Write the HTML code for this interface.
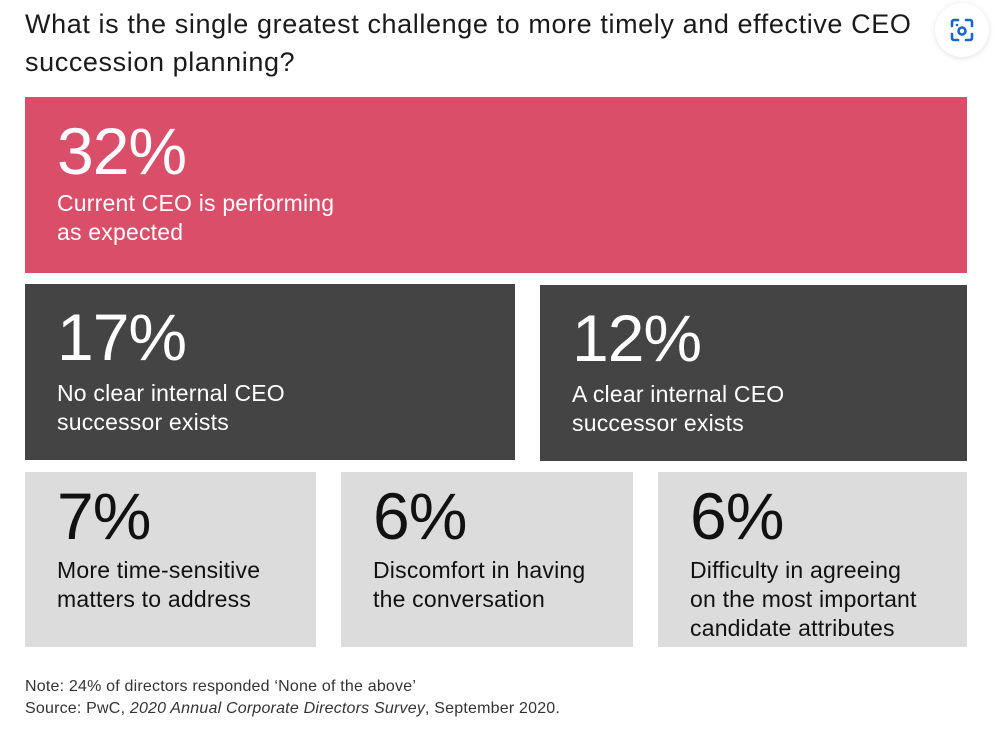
<!DOCTYPE html>
<html><head><meta charset="utf-8"><style>
body{margin:0;width:1000px;height:743px;background:#fff;position:relative;overflow:hidden;font-family:"Liberation Sans",sans-serif;}
.title{position:absolute;left:25px;top:5px;font-size:27px;line-height:38px;letter-spacing:0.6px;color:#1a1a1a;width:915px;}
.box{position:absolute;}
.num{position:absolute;left:32px;font-size:66px;line-height:66px;font-weight:300;letter-spacing:-1px;}
.lbl{position:absolute;left:32px;font-size:23px;line-height:29px;letter-spacing:0.2px;}
.note{position:absolute;left:25px;top:676px;font-size:16px;line-height:22px;letter-spacing:0.2px;color:#333;}
.cam{position:absolute;left:935px;top:3px;width:54px;height:54px;border-radius:50%;background:#fff;box-shadow:0 1px 6px rgba(0,0,0,.12);}
</style></head><body>
<div class="title">What is the single greatest challenge to more timely and effective CEO succession planning?</div>
<div class="cam">
<svg width="54" height="54" viewBox="0 0 54 54"><g fill="none" stroke="#1a66c9" stroke-width="2.6" stroke-linecap="round"><path d="M17 23v-4a2 2 0 0 1 2-2h4M31 17h4a2 2 0 0 1 2 2v4M37 31v4a2 2 0 0 1-2 2h-4M23 37h-4a2 2 0 0 1-2-2v-4"/><circle cx="27" cy="28" r="3.5"/></g><circle cx="22" cy="22" r="1.3" fill="#1a66c9"/></svg>
</div>
<div id="boxes"></div>
<div class="note">Note: 24% of directors responded ‘None of the above’<br>Source: PwC, <i>2020 Annual Corporate Directors Survey</i>, September 2020.</div>
<script>
const values=[32,17,12,7,6,6];
const labels=["Current CEO is performing<br>as expected","No clear internal CEO<br>successor exists","A clear internal CEO<br>successor exists","More time-sensitive<br>matters to address","Discomfort in having<br>the conversation","Difficulty in agreeing<br>on the most important<br>candidate attributes"];
const names=["current-ceo-performing","no-internal-successor","clear-internal-successor","time-sensitive-matters","discomfort-conversation","difficulty-agreeing"];
const rects=[[25,97,942,176],[25,284,490,176],[540,285,427,176],[25,472,291,175],[341,472,292,175],[658,472,309,175]];
const styles=[["#d94f6a","#fff"],["#444","#fff"],["#444","#fff"],["#dcdcdc","#111"],["#dcdcdc","#111"],["#dcdcdc","#111"]];
const numTop=[21,20,20,11,11,11];
const lblTop=[92,95,95,84,84,84];
const host=document.getElementById('boxes');
values.forEach((v,i)=>{
  const r=rects[i];
  const b=document.createElement('div');
  b.className='box';
  
  
  b.style.cssText=`left:${r[0]}px;top:${r[1]}px;width:${r[2]}px;height:${r[3]}px;background:${styles[i][0]};color:${styles[i][1]}`;
  const n=document.createElement('div');
  n.className='num';
  
  
  n.style.top=numTop[i]+'px';
  n.textContent=v+'%';
  const l=document.createElement('div');
  l.className='lbl';
  
  
  l.style.top=lblTop[i]+'px';
  l.innerHTML=labels[i];
  b.appendChild(n);b.appendChild(l);host.appendChild(b);
});
</script>
</body></html>
